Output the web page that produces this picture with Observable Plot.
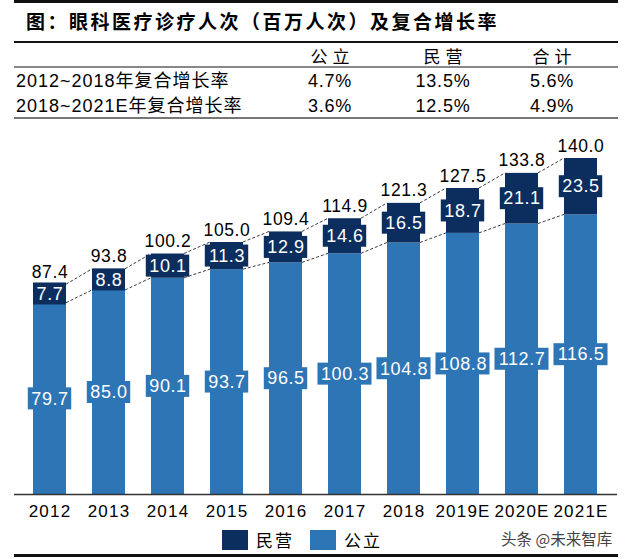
<!DOCTYPE html>
<html>
<head>
<meta charset="utf-8">
<script src="https://cdn.jsdelivr.net/npm/d3@7"></script>
<script src="https://cdn.jsdelivr.net/npm/@observablehq/plot@0.6"></script>
<style>
  body { margin: 0; background: #fff; }
  #page {
    position: relative; width: 632px; height: 559px; overflow: hidden; background: #fff;
    font-family: "Liberation Sans", "Noto Sans CJK SC", sans-serif; color: #000;
  }
  .rule { position: absolute; left: 14px; width: 604px; background: #111; }
  .cell { position: absolute; height: 24px; line-height: 24px; white-space: nowrap; }
  #title {
    position: absolute; left: 26px; top: 8px; height: 26px; line-height: 26px;
    font-family: "Noto Sans CJK SC", sans-serif; font-weight: 700; font-size: 19px; letter-spacing: 2.5px;
  }
  #chart { position: absolute; left: 0; top: 130px; }
  .swatch { position: absolute; width: 26px; height: 20px; top: 530px; }
  .legend-text { position: absolute; top: 528px; height: 24px; line-height: 24px; font-size: 17px; letter-spacing: 2px;
    font-family: "Noto Sans CJK SC", sans-serif; }
  #source { position: absolute; left: 501px; top: 527px; height: 22px; line-height: 22px; font-size: 15.5px; color: #444;
    font-family: "Noto Sans CJK SC", sans-serif; }
  #chart svg g[aria-label="x-axis tick label"] text, #chart svg g[aria-label="x-axis"] text { letter-spacing: 1.2px; }
</style>
</head>
<body>
<div id="page">
  <div class="rule" style="top:0px;height:3px"></div>
  <div id="title">图：眼科医疗诊疗人次（百万人次）及复合增长率</div>
  <div class="rule" style="top:41px;height:2px"></div>
  <div class="rule" style="top:66px;height:1.5px;background:#888"></div>
  <div class="rule" style="top:117px;height:1.5px;background:#777"></div>
  <div id="table"></div>
  <div id="chart"></div>
  <div id="legend"></div>
  <div id="source">头条 @未来智库</div>
  <div class="rule" style="top:554px;height:3px"></div>
</div>
<script>
// Eye-care visits (millions), public vs private hospitals
const years = ["2012", "2013", "2014", "2015", "2016", "2017", "2018", "2019E", "2020E", "2021E"];
const publicVisits = [79.7, 85.0, 90.1, 93.7, 96.5, 100.3, 104.8, 108.8, 112.7, 116.5];
const privateVisits = [7.7, 8.8, 10.1, 11.3, 12.9, 14.6, 16.5, 18.7, 21.1, 23.5];
const totalVisits = [87.4, 93.8, 100.2, 105.0, 109.4, 114.9, 121.3, 127.5, 133.8, 140.0];

// Compound growth table
const tableColumns = ["公立", "民营", "合计"];
const tableRows = ["2012~2018年复合增长率", "2018~2021E年复合增长率"];
const growth2012to2018 = ["4.7%", "13.5%", "5.6%"];
const growth2018to2021 = ["3.6%", "12.5%", "4.9%"];

const seriesNames = ["民营", "公立"];
const PRIVATE = "#0c2e5e";
const PUBLIC = "#2e75b6";
const seriesColors = [PRIVATE, PUBLIC];

// ---- table ----
const table = document.getElementById("table");
const colCenters = [330, 443, 552];
const rowCenters = [80.5, 105.5];
function cell(text, {left, center, cy, size = 18, spacing = 0.8, family}) {
  const d = document.createElement("div");
  d.className = "cell";
  d.textContent = text;
  d.style.top = (cy - 12) + "px";
  d.style.fontSize = size + "px";
  d.style.letterSpacing = spacing + "px";
  if (family) d.style.fontFamily = family;
  if (center != null) { d.style.left = (center - 60) + "px"; d.style.width = "120px"; d.style.textAlign = "center"; }
  else d.style.left = left + "px";
  table.appendChild(d);
}
tableColumns.forEach((c, j) => cell(c, {center: colCenters[j] + 2.5, cy: 55.5, size: 17, spacing: 5, family: '"Noto Sans CJK SC", sans-serif'}));
[growth2012to2018, growth2018to2021].forEach((vals, r) => {
  cell(tableRows[r], {left: 16, cy: rowCenters[r], size: 18, spacing: 1});
  vals.forEach((v, j) => cell(v, {center: colCenters[j], cy: rowCenters[r], size: 18, spacing: 0.8}));
});

// ---- legend ----
const legend = document.getElementById("legend");
const swatchLefts = [222, 310];
seriesNames.forEach((name, i) => {
  const s = document.createElement("div");
  s.className = "swatch";
  s.style.left = swatchLefts[i] + "px";
  s.style.background = seriesColors[i];
  legend.appendChild(s);
  const t = document.createElement("div");
  t.className = "legend-text";
  t.style.left = (swatchLefts[i] + 34) + "px";
  t.textContent = name;
  legend.appendChild(t);
});

// ---- chart ----
const rows = years.map((year, i) => ({year, pub: publicVisits[i], pri: privateVisits[i], total: totalVisits[i]}));
const fmt = v => v.toFixed(1);

const LABEL_SIZE = 18;
const LETTER = 0.6;
const BAR_W = 34;
// width of a label such as "100.3" (digits plus one decimal point)
const labelWidth = len => ((len - 1) * 0.556 + 0.278) * LABEL_SIZE + len * LETTER;

// Solid boxes behind the in-bar labels, widened when the text is wider than the bar
function labelBoxes(value, mid, fill) {
  return d3.groups(rows, d => fmt(value(d)).length).map(([len, group]) => {
    const extra = Math.max(0, (labelWidth(len) + 7 - BAR_W) / 2);
    return Plot.barY(group, {
      x: "year", y1: mid, y2: mid, fill,
      insetTop: -11, insetBottom: -11, insetLeft: -extra, insetRight: -extra
    });
  });
}

// Dashed lines joining the right edge of one bar to the left edge of the next
function connectors(top) {
  return (index, scales) => {
    const {x, y} = scales;
    const bw = x.bandwidth ? x.bandwidth() : 0;
    const g = d3.create("svg:g")
      .attr("fill", "none")
      .attr("stroke", "#3c3c3c")
      .attr("stroke-width", 1)
      .attr("stroke-dasharray", "3,2");
    for (let i = 0; i < rows.length - 1; ++i) {
      g.append("line")
        .attr("x1", x(rows[i].year) + bw).attr("y1", y(top(rows[i])))
        .attr("x2", x(rows[i + 1].year)).attr("y2", y(top(rows[i + 1])));
    }
    return g.node();
  };
}

const chart = Plot.plot({
  width: 632,
  height: 400,
  marginTop: 28,
  marginBottom: 36,
  marginLeft: 14,
  marginRight: 15,
  style: {fontFamily: '"Liberation Sans", Arial, sans-serif', fontSize: "17px", color: "#000", background: "transparent", overflow: "visible"},
  x: {type: "band", domain: years, paddingInner: 0.433, paddingOuter: 0.242, tickSize: 0, tickPadding: 10, label: null},
  y: {domain: [0, 140], axis: null},
  marks: [
    Plot.barY(rows, {x: "year", y1: 0, y2: "pub", fill: PUBLIC}),
    Plot.barY(rows, {x: "year", y1: "pub", y2: d => d.pub + d.pri, fill: PRIVATE}),
    Plot.ruleY([0], {stroke: "#333", strokeWidth: 1.5}),
    connectors(d => d.pub + d.pri),
    connectors(d => d.pub),
    ...labelBoxes(d => d.pub, d => d.pub / 2, PUBLIC),
    Plot.text(rows, {x: "year", y: d => d.pub / 2, text: d => fmt(d.pub), fill: "#fff", fontSize: LABEL_SIZE, lineAnchor: "middle"}),
    ...labelBoxes(d => d.pri, d => d.pub + d.pri / 2, PRIVATE),
    Plot.text(rows, {x: "year", y: d => d.pub + d.pri / 2, text: d => fmt(d.pri), fill: "#fff", fontSize: LABEL_SIZE, lineAnchor: "middle"}),
    Plot.text(rows, {x: "year", y: "total", text: d => fmt(d.total), fill: "#000", fontSize: 17.5, lineAnchor: "bottom", dy: -7})
  ]
});
chart.style.letterSpacing = LETTER + "px";
document.getElementById("chart").appendChild(chart);
</script>
</body>
</html>
